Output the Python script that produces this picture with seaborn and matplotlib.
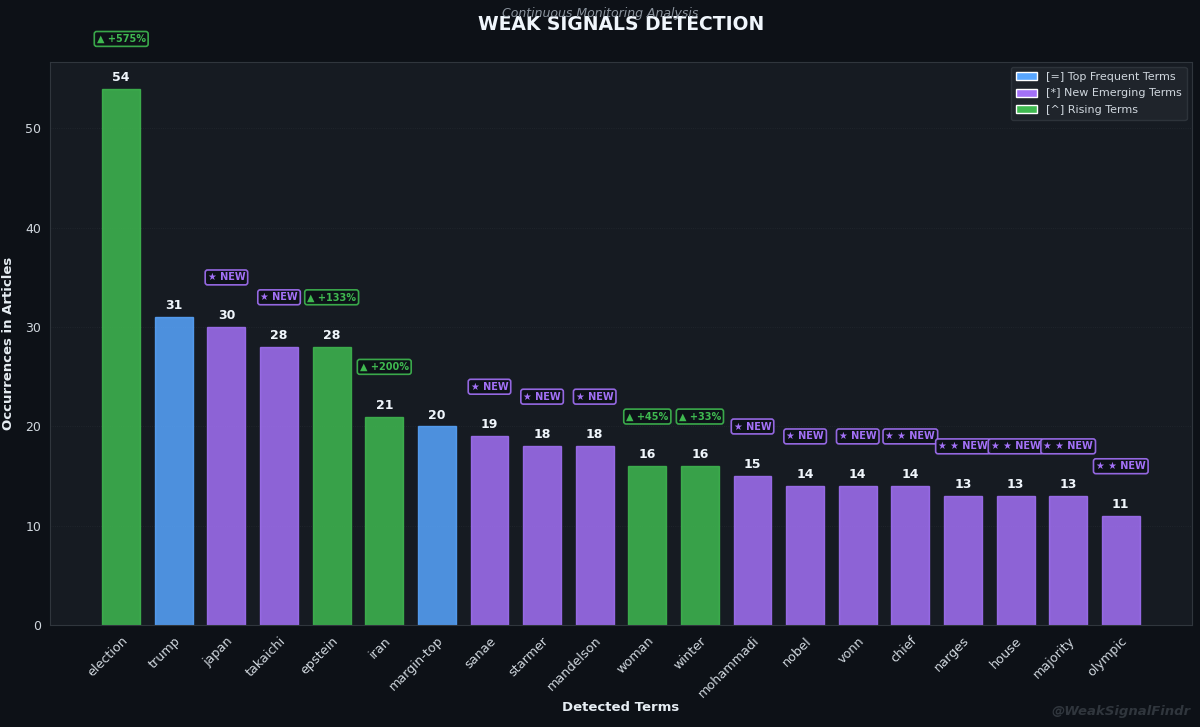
import pandas as pd
import seaborn as sns
import matplotlib.pyplot as plt
from matplotlib.patches import Patch

terms = ['election', 'trump', 'japan', 'takaichi', 'epstein', 'iran', 'margin-top',
         'sanae', 'starmer', 'mandelson', 'woman', 'winter', 'mohammadi', 'nobel',
         'vonn', 'chief', 'narges', 'house', 'majority', 'olympic']
counts = [54, 31, 30, 28, 28, 21, 20, 19, 18, 18, 16, 16, 15, 14, 14, 14, 13, 13, 13, 11]
kinds = ['rising', 'top', 'new', 'new', 'rising', 'rising', 'top', 'new', 'new', 'new',
         'rising', 'rising', 'new', 'new', 'new', 'new', 'new', 'new', 'new', 'new']
badges = ['▲ +575%', '', '★ NEW', '★ NEW', '▲ +133%', '▲ +200%', '', '★ NEW', '★ NEW',
          '★ NEW', '▲ +45%', '▲ +33%', '★ NEW', '★ NEW', '★ NEW', '★ ★ NEW', '★ ★ NEW',
          '★ ★ NEW', '★ ★ NEW', '★ ★ NEW']

BG = '#0d1117'
PANEL = '#161b22'
colors = {'top': '#58a6ff', 'new': '#a371f7', 'rising': '#3fb950'}
legend_labels = {'top': '[=] Top Frequent Terms', 'new': '[*] New Emerging Terms',
                 'rising': '[^] Rising Terms'}

df = pd.DataFrame({'term': terms, 'count': counts, 'kind': kinds})

sns.set_style('dark')
plt.rcParams['font.family'] = ['DejaVu Sans']

fig, ax = plt.subplots(figsize=(12, 7.27), dpi=100)
fig.patch.set_facecolor(BG)
ax.set_facecolor(PANEL)
fig.subplots_adjust(left=0.042, right=0.993, top=0.915, bottom=0.14)

bar_w = 0.72
sns.barplot(data=df, x='term', y='count', hue='kind', palette=colors, order=terms,
            dodge=False, width=bar_w, legend=False, ax=ax, saturation=1)

for patch in ax.patches:
    fc = patch.get_facecolor()
    patch.set_edgecolor(fc[:3])
    patch.set_linewidth(1)
    patch.set_alpha(0.85)

# matplotlib-style 5% margins around the bars
n = len(terms)
span = n - 1 + bar_w
ax.set_xlim(-bar_w / 2 - 0.05 * span, n - 1 + bar_w / 2 + 0.05 * span)
ax.set_ylim(0, max(counts) * 1.05)

for i, (c, b, k) in enumerate(zip(counts, badges, kinds)):
    ax.text(i, c + 0.5, str(c), ha='center', va='bottom', color='#f0f6fc',
            fontsize=9, fontweight='bold')
    if b:
        col = colors[k]
        ax.text(i, c + 5, b, ha='center', va='center', color=col, fontsize=7,
                fontweight='bold', clip_on=False,
                bbox=dict(boxstyle='round,pad=0.25', facecolor=BG, edgecolor=col,
                          linewidth=1.2, alpha=0.9))

ax.tick_params(axis='x', colors='#d0d7de', labelsize=9.2, length=3)
ax.tick_params(axis='y', colors='#d0d7de', labelsize=9, length=3)
plt.setp(ax.get_xticklabels(), rotation=45, ha='right', rotation_mode='anchor')
ax.grid(axis='y', color='#30363d', linestyle=':', linewidth=0.6, alpha=0.5)
ax.set_axisbelow(True)
for s in ax.spines.values():
    s.set_visible(True)
    s.set_color('#30363d')
    s.set_linewidth(0.8)

ax.set_xlabel('Detected Terms', color='#e6edf3', fontsize=9.5, fontweight='bold')
ax.xaxis.set_label_coords(0.5, -0.135)
ax.set_ylabel('Occurrences in Articles', color='#e6edf3', fontsize=9.5, fontweight='bold')
ax.yaxis.set_label_coords(-0.031, 0.5)

handles = [Patch(facecolor=colors[k], label=legend_labels[k]) for k in ['top', 'new', 'rising']]
leg = ax.legend(handles=handles, loc='upper right', fontsize=8, facecolor='#21262d',
                edgecolor='#30363d', framealpha=0.9, handlelength=1.9, handleheight=0.75,
                labelspacing=0.6, borderaxespad=0.45, borderpad=0.45)
for t in leg.get_texts():
    t.set_color('#d0d7de')

cx = (0.042 + 0.993) / 2
fig.text(cx, 1 - 24 / 727, 'WEAK SIGNALS DETECTION', ha='center', va='center',
         color='#f0f6fc', fontsize=13.5, fontweight='bold')
fig.text(0.5, 1 - 13 / 727, 'Continuous Monitoring Analysis', ha='center', va='center',
         color='#8b949e', fontsize=9, style='italic')
fig.text(0.992, 1 - 712 / 727, '@WeakSignalFindr', ha='right', va='center',
         color='#30363d', fontsize=9.5, fontweight='bold', style='italic')

fig.savefig('out.png', facecolor=BG)
